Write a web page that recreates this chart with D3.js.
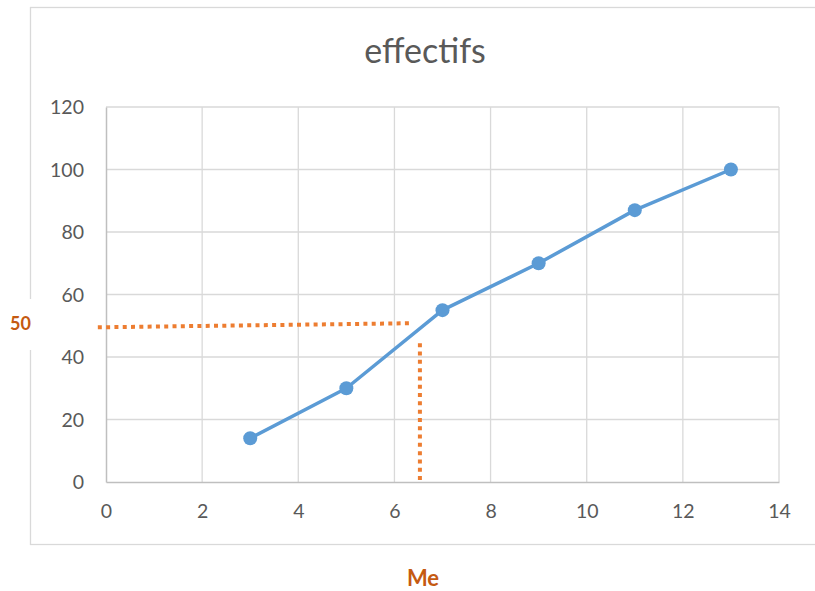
<!DOCTYPE html>
<html><head><meta charset="utf-8">
<script src="https://cdn.jsdelivr.net/npm/d3@7"></script>
<style>html,body{margin:0;padding:0;background:#fff;}</style>
</head><body>
<script>
const xValues = [3, 5, 7, 9, 11, 13];
const yValues = [14, 30, 55, 70, 87, 100];
const xTicks = [0, 2, 4, 6, 8, 10, 12, 14];
const yTicks = [0, 20, 40, 60, 80, 100, 120];
const title = "effectifs";
const medianLabelY = "50";
const medianLabelX = "Me";
// hand-drawn dotted guides (data units)
const guideH = [[-0.17, 49.5], [6.32, 50.8]];
const guideV = [[6.53, 44.4], [6.53, 0.6]];

const W = 815, H = 591;
const svg = d3.select("body").append("svg").attr("width", W).attr("height", H)
  .style("font-family", "Lato, 'Open Sans', sans-serif");

const x = d3.scaleLinear().domain([0, 14]).range([106, 779]);
const y = d3.scaleLinear().domain([0, 120]).range([482, 107]);

// chart border
svg.append("rect").attr("x", 30.5).attr("y", 7.5).attr("width", 900).attr("height", 537)
  .attr("fill", "#fff").attr("stroke", "#d9d9d9").attr("stroke-width", 1.3);

// title
svg.append("text").attr("x", 425).attr("y", 63).attr("text-anchor", "middle")
  .attr("font-size", 34).attr("fill", "#595959").text(title);

// gridlines
svg.append("g").selectAll("line").data(yTicks.filter(d => d > 0)).join("line")
  .attr("x1", x(0)).attr("x2", x(14)).attr("y1", d => y(d)).attr("y2", d => y(d))
  .attr("stroke", "#d9d9d9").attr("stroke-width", 1.3);
svg.append("g").selectAll("line").data(xTicks.filter(d => d > 0)).join("line")
  .attr("y1", y(0)).attr("y2", y(120)).attr("x1", d => x(d)).attr("x2", d => x(d))
  .attr("stroke", "#d9d9d9").attr("stroke-width", 1.3);

// axes lines
const xAxis = svg.append("g").attr("transform", `translate(0,${y(0)})`)
  .call(d3.axisBottom(x).tickValues(xTicks).tickSize(0).tickPadding(22));
const yAxis = svg.append("g").attr("transform", `translate(${x(0)},0)`)
  .call(d3.axisLeft(y).tickValues(yTicks).tickSize(0).tickPadding(22));
[xAxis, yAxis].forEach(a => {
  a.select(".domain").attr("stroke", "#bfbfbf").attr("stroke-width", 1.5);
  a.selectAll("text").attr("font-size", 19.5).attr("fill", "#595959")
    .style("font-family", "Lato, 'Open Sans', sans-serif");
});
xAxis.selectAll("text").attr("dy", "0.71em").attr("y", 22);
yAxis.selectAll("text").attr("dy", "0.35em");

// series line
const line = d3.line().x((d, i) => x(xValues[i])).y(d => y(d));
svg.append("path").datum(yValues).attr("d", line).attr("fill", "none")
  .attr("stroke", "#5b9bd5").attr("stroke-width", 3.5).attr("stroke-linejoin", "round");
svg.append("g").selectAll("circle").data(yValues).join("circle")
  .attr("cx", (d, i) => x(xValues[i])).attr("cy", d => y(d)).attr("r", 7)
  .attr("fill", "#5b9bd5");

// dotted guides
const g2 = d3.line().x(d => x(d[0])).y(d => y(d[1]));
[guideH, guideV].forEach(gd => {
  svg.append("path").attr("d", g2(gd)).attr("fill", "none")
    .attr("stroke", "#ed7d31").attr("stroke-width", 4).attr("stroke-dasharray", "4,4.3");
});

// "50" label with white box masking border
svg.append("rect").attr("x", 0).attr("y", 299).attr("width", 62).attr("height", 51).attr("fill", "#fff");
svg.append("text").attr("x", 20.5).attr("y", 323.5).attr("dy", "0.35em").attr("text-anchor", "middle")
  .attr("font-size", 18).attr("font-weight", "bold").attr("fill", "#c55a11").text(medianLabelY);
svg.append("text").attr("x", 423).attr("y", 578).attr("dy", "0.35em").attr("text-anchor", "middle")
  .attr("font-size", 22).attr("font-weight", "bold").attr("fill", "#c55a11").text(medianLabelX);
</script>
</body></html>
